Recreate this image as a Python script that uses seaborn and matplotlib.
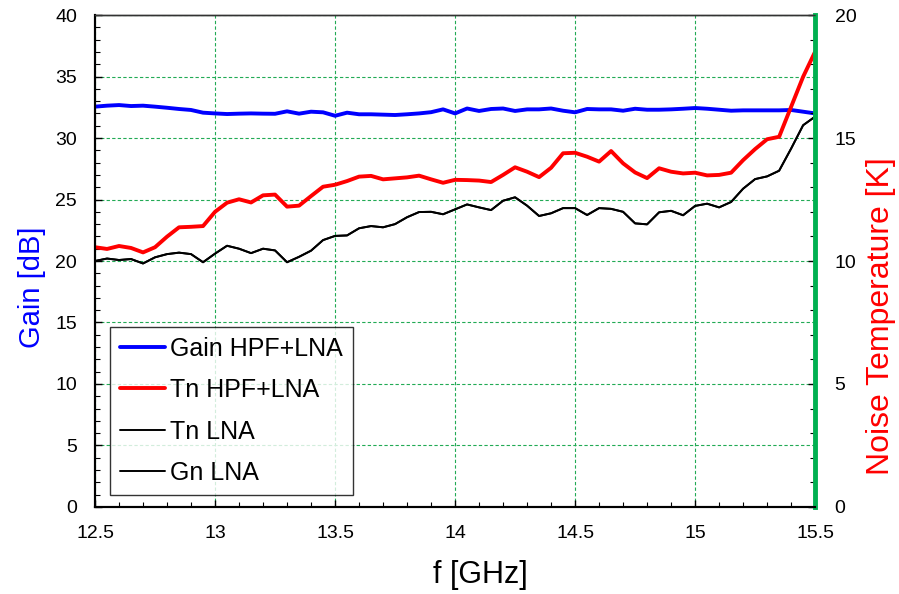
import numpy as np
import pandas as pd
import seaborn as sns
import matplotlib.pyplot as plt
from matplotlib.ticker import MultipleLocator

# Frequency points (GHz)
freq = [12.5, 12.55, 12.6, 12.65, 12.7, 12.75, 12.8, 12.85, 12.9, 12.95,
        13.0, 13.05, 13.1, 13.15, 13.2, 13.25, 13.3, 13.35, 13.4, 13.45,
        13.5, 13.55, 13.6, 13.65, 13.7, 13.75, 13.8, 13.85, 13.9, 13.95,
        14.0, 14.05, 14.1, 14.15, 14.2, 14.25, 14.3, 14.35, 14.4, 14.45,
        14.5, 14.55, 14.6, 14.65, 14.7, 14.75, 14.8, 14.85, 14.9, 14.95,
        15.0, 15.05, 15.1, 15.15, 15.2, 15.25, 15.3, 15.35, 15.4, 15.45,
        15.5]

# Gain HPF+LNA [dB] (left axis)
gain_hpf_lna = [32.55, 32.63, 32.68, 32.6, 32.63, 32.55, 32.46, 32.36, 32.28, 32.06,
                32.0, 31.95, 31.98, 32.0, 31.98, 31.97, 32.17, 31.98, 32.14, 32.09,
                31.81, 32.06, 31.93, 31.93, 31.9, 31.87, 31.93, 32.0, 32.1, 32.33,
                32.0, 32.4, 32.2, 32.36, 32.4, 32.2, 32.33, 32.33, 32.4, 32.22,
                32.09, 32.36, 32.33, 32.33, 32.22, 32.38, 32.3, 32.3, 32.33, 32.38,
                32.44, 32.38, 32.3, 32.22, 32.25, 32.25, 32.25, 32.25, 32.28, 32.14,
                32.0]

# Tn HPF+LNA [K] (right axis)
tn_hpf_lna = [10.56, 10.49, 10.61, 10.53, 10.35, 10.56, 10.99, 11.37, 11.39, 11.42,
              12.0, 12.37, 12.51, 12.38, 12.67, 12.7, 12.21, 12.25, 12.64, 13.02,
              13.1, 13.25, 13.43, 13.46, 13.32, 13.36, 13.4, 13.47, 13.32, 13.18,
              13.3, 13.29, 13.27, 13.21, 13.5, 13.81, 13.63, 13.41, 13.79, 14.38,
              14.4, 14.24, 14.04, 14.47, 13.97, 13.6, 13.37, 13.77, 13.63, 13.56,
              13.59, 13.48, 13.5, 13.59, 14.1, 14.55, 14.95, 15.05, 16.27, 17.49,
              18.51]

# Tn LNA [K] (right axis)
tn_lna = [10.0, 10.1, 10.04, 10.08, 9.9, 10.15, 10.28, 10.34, 10.28, 9.95,
          10.3, 10.62, 10.5, 10.32, 10.5, 10.43, 9.95, 10.17, 10.42, 10.85,
          11.02, 11.04, 11.33, 11.42, 11.37, 11.5, 11.78, 11.99, 12.0, 11.9,
          12.1, 12.3, 12.18, 12.07, 12.45, 12.59, 12.25, 11.83, 11.94, 12.15,
          12.15, 11.87, 12.15, 12.12, 12.0, 11.53, 11.49, 11.98, 12.04, 11.86,
          12.24, 12.33, 12.18, 12.4, 12.94, 13.33, 13.44, 13.67, 14.57, 15.52,
          15.87]

# Gn LNA lies on top of the Tn LNA trace in the original
gn_lna = tn_lna

df = pd.DataFrame({"f": freq, "gain": gain_hpf_lna, "tn": tn_hpf_lna,
                   "tn_lna": tn_lna, "gn_lna": gn_lna})

sns.set_theme(style="white")
plt.rcParams["font.family"] = ["Liberation Sans", "DejaVu Sans"]
plt.rcParams["xtick.direction"] = "in"
plt.rcParams["ytick.direction"] = "in"
plt.rcParams["text.color"] = "black"
plt.rcParams["axes.labelcolor"] = "black"
plt.rcParams["xtick.color"] = "black"
plt.rcParams["ytick.color"] = "black"

fig = plt.figure(figsize=(8.99, 5.94), dpi=100)
ax1 = fig.add_axes([0.1057, 0.1465, 0.801, 0.8282])
ax2 = ax1.twinx()

grid_col = "#22aa55"

sns.lineplot(data=df, x="f", y="gain", ax=ax1, color="#0000ff", linewidth=2.8,
             label="Gain HPF+LNA", legend=False)
sns.lineplot(data=df, x="f", y="tn", ax=ax2, color="#ff0000", linewidth=2.8,
             label="Tn HPF+LNA", legend=False)
sns.lineplot(data=df, x="f", y="tn_lna", ax=ax2, color="black", linewidth=1.4,
             label="Tn LNA", legend=False)
sns.lineplot(data=df, x="f", y="gn_lna", ax=ax2, color="black", linewidth=1.4,
             label="Gn LNA", legend=False)

ax1.set_xlim(12.5, 15.5)
ax1.set_ylim(0, 40)
ax2.set_ylim(0, 20)

ax1.xaxis.set_major_locator(MultipleLocator(0.5))
ax1.xaxis.set_minor_locator(MultipleLocator(0.1))
ax1.yaxis.set_major_locator(MultipleLocator(5))
ax1.yaxis.set_minor_locator(MultipleLocator(1))
ax2.yaxis.set_major_locator(MultipleLocator(5))
ax2.yaxis.set_minor_locator(MultipleLocator(1))
ax1.set_xticks([12.5, 13, 13.5, 14, 14.5, 15, 15.5])
ax1.set_xticklabels(["12.5", "13", "13.5", "14", "14.5", "15", "15.5"])

ax1.grid(True, which="major", color=grid_col, linestyle=(0, (3, 2)), linewidth=0.8)
ax1.set_axisbelow(True)

ax1.tick_params(axis="both", which="major", length=5, width=1, labelsize=14,
                colors="black", pad=13, left=True, bottom=True)
ax1.tick_params(axis="both", which="minor", length=3.5, width=0.8,
                colors="black", left=True, bottom=True)
ax2.tick_params(axis="y", which="major", length=5, width=1, labelsize=14,
                colors="black", pad=14, right=True)
ax2.tick_params(axis="y", which="minor", length=3.5, width=0.8,
                colors="black", right=True)

for a in (ax1, ax2):
    a.spines["left"].set_color("black")
    a.spines["bottom"].set_color("black")
    a.spines["top"].set_color("#333333")
    a.spines["top"].set_linestyle((0, (2, 1)))
    a.spines["top"].set_linewidth(1.0)
    a.spines["left"].set_linewidth(1.5)
    a.spines["bottom"].set_linewidth(1.5)
ax2.spines["right"].set_color("#00b050")
ax2.spines["right"].set_linewidth(3.5)
ax1.spines["right"].set_visible(False)

ax1.set_xlabel("f [GHz]", fontsize=22, color="black")
ax1.set_ylabel("Gain [dB]", fontsize=21, color="#0000ff")
ax2.set_ylabel("Noise Temperature [K]", fontsize=23, color="#ff0000")
ax1.xaxis.set_label_coords(0.535, -0.108)
ax1.yaxis.set_label_coords(-0.068, 0.447)
ax2.yaxis.set_label_coords(1.07, 0.388)

handles = ax1.get_lines() + ax2.get_lines()
handles = [h for h in handles if h.get_label() in
           ("Gain HPF+LNA", "Tn HPF+LNA", "Tn LNA", "Gn LNA")]
leg = ax2.legend(handles=handles, loc="lower left",
                 bbox_to_anchor=(0.021, 0.024), fontsize=18, frameon=True,
                 fancybox=False, edgecolor="black", handlelength=1.8,
                 labelspacing=0.7, borderpad=0.4, handletextpad=0.2,
                 borderaxespad=0, labelcolor="black")
leg.get_frame().set_linewidth(1.0)

fig.savefig("out.png", dpi=100)
